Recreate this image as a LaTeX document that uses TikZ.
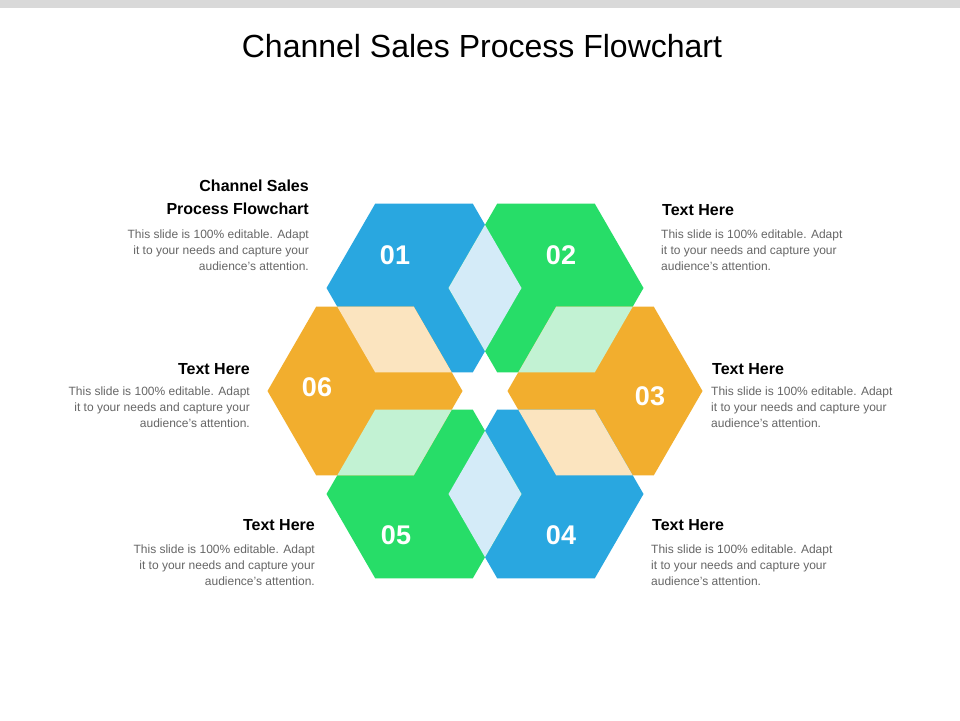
\documentclass[tikz,border=0pt]{standalone}
\usepackage{fontspec}
\setmainfont{Liberation Sans}
\definecolor{cblue}{HTML}{29A7E0}
\definecolor{cgreen}{HTML}{27DD68}
\definecolor{corange}{HTML}{F2AE2E}
\definecolor{lblue}{HTML}{D4EBF8}
\definecolor{lgreen}{HTML}{C2F2D3}
\definecolor{lorange}{HTML}{FBE4BF}
\definecolor{bodygray}{HTML}{666666}
\begin{document}
\begin{tikzpicture}[x=1pt,y=-1pt,
  num/.style={text=white,font=\bfseries\fontsize{27}{30}\selectfont,inner sep=0},
  headR/.style={anchor=north east,align=right,font=\bfseries\fontsize{16}{23}\selectfont,inner sep=0},
  headL/.style={anchor=north west,align=left,font=\bfseries\fontsize{16}{23}\selectfont,inner sep=0},
  bodyR/.style={anchor=north east,align=right,text=bodygray,font=\fontsize{12}{16}\selectfont,inner sep=0},
  bodyL/.style={anchor=north west,align=left,text=bodygray,font=\fontsize{12}{16}\selectfont,inner sep=0}]
\useasboundingbox (0,0) rectangle (960,720);
\fill[white] (0,0) rectangle (960,720);
\fill[black!15] (0,0) rectangle (960,8);
\node[font=\fontsize{32}{36}\selectfont] (title) at (482,46) {Channel Sales Process Flowchart};
\def\hex#1{(#1)++(97.5,0)--++(-48.75,-84.4)--++(-97.5,0)--++(-48.75,84.4)--++(48.75,84.4)--++(97.5,0)--cycle}
\coordinate (c) at (485,391);
\coordinate (h1) at (424,288);
\coordinate (h2) at (546,288);
\coordinate (h3) at (605,391);
\coordinate (h4) at (546,494);
\coordinate (h5) at (424,494);
\coordinate (h6) at (365,391);
\fill[cblue] \hex{h1};
\fill[cgreen] \hex{h2};
\fill[corange] \hex{h3};
\fill[cblue] \hex{h4};
\fill[cgreen] \hex{h5};
\fill[corange] \hex{h6};
\begin{scope}\clip \hex{h1}; \fill[lblue] \hex{h2}; \end{scope}
\begin{scope}\clip \hex{h4}; \fill[lblue] \hex{h5}; \end{scope}
\begin{scope}\clip \hex{h2}; \fill[lgreen] \hex{h3}; \end{scope}
\begin{scope}\clip \hex{h5}; \fill[lgreen] \hex{h6}; \end{scope}
\begin{scope}\clip \hex{h1}; \fill[lorange] \hex{h6}; \end{scope}
\begin{scope}\clip \hex{h3}; \fill[lorange] \hex{h4}; \end{scope}
\node[num] (n1) at (395,255) {01};
\node[num] (n2) at (561,255) {02};
\node[num] (n3) at (650,396) {03};
\node[num] (n4) at (561,535) {04};
\node[num] (n5) at (396,535) {05};
\node[num] (n6) at (317,387) {06};
% text blocks
\node[headR] (t1) at (309,180) {Channel Sales\\Process Flowchart};
\node[bodyR] (b1) at (309,230) {This slide is 100\% editable. Adapt\\it to your needs and capture your\\audience's attention.};
\node[headL] (t2) at (662,204) {Text Here};
\node[bodyL] (b2) at (661,230) {This slide is 100\% editable. Adapt\\it to your needs and capture your\\audience's attention.};
\node[headR] (t6) at (250,363) {Text Here};
\node[bodyR] (b6) at (250,387) {This slide is 100\% editable. Adapt\\it to your needs and capture your\\audience's attention.};
\node[headL] (t3) at (712,363) {Text Here};
\node[bodyL] (b3) at (711,387) {This slide is 100\% editable. Adapt\\it to your needs and capture your\\audience's attention.};
\node[headR] (t5) at (315,519) {Text Here};
\node[bodyR] (b5) at (315,545) {This slide is 100\% editable. Adapt\\it to your needs and capture your\\audience's attention.};
\node[headL] (t4) at (652,519) {Text Here};
\node[bodyL] (b4) at (651,545) {This slide is 100\% editable. Adapt\\it to your needs and capture your\\audience's attention.};
\end{tikzpicture}
\end{document}
